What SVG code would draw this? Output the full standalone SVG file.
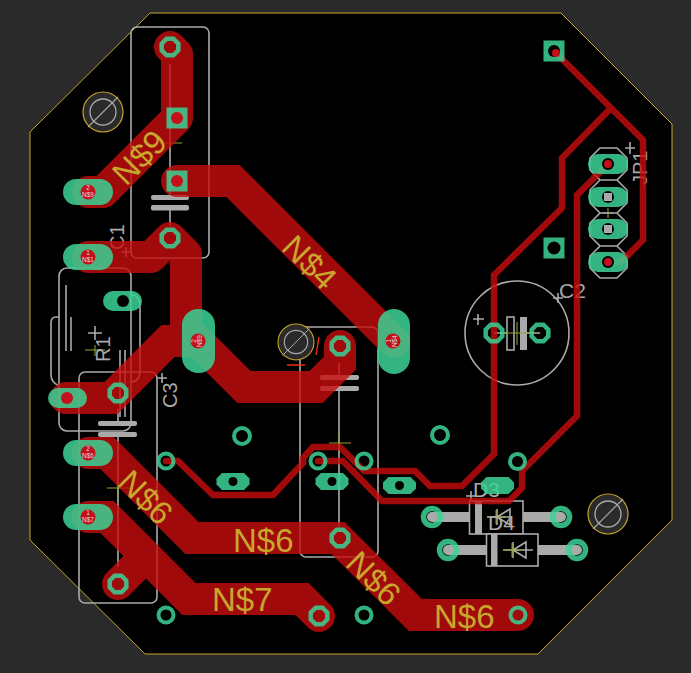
<svg xmlns="http://www.w3.org/2000/svg" width="691" height="673" viewBox="0 0 691 673">
<style>
.s{fill:none;stroke:#aaa;stroke-width:1.6}
.sf{fill:#aaa;stroke:none}
.y{fill:none;stroke:#9aa32a;stroke-width:1}
.wide{fill:none;stroke:#c80d0d;stroke-width:32;stroke-linejoin:miter;stroke-linecap:round}
.thin{fill:none;stroke:#c80d0d;stroke-width:6.5;stroke-linejoin:miter;stroke-linecap:round}
.g{fill:#3bd296;opacity:.85}
.r{fill:none;stroke:#3bd296;stroke-width:4;opacity:.85}
.R{fill:none;stroke:#3bd296;stroke-width:5.5;opacity:.85}
.h{fill:#000}
.big{font:33px "Liberation Sans",Arial,sans-serif;fill:#c8a62c}
.sk{font:20px "Liberation Sans",Arial,sans-serif;fill:#aaa}
.t{font:6.5px "Liberation Sans",Arial,sans-serif;fill:#ddd;text-anchor:middle}
.dot{fill:#c4101a}
.lead{stroke:#aaa;stroke-width:10;stroke-linecap:round;fill:none}
.mh{fill:#2a2a2a;stroke:#c8a62c;stroke-width:1.2}
</style>
<defs>
<polygon id="oct" points="-3.400,-8.300 3.400,-8.300 8.300,-3.400 8.300,3.400 3.400,8.300 -3.400,8.300 -8.300,3.400 -8.300,-3.400" fill="none" stroke="#3bd296" stroke-opacity=".85" stroke-width="4.500"/>
<g id="mh"><circle class="mh" r="20"/><circle r="13" fill="none" stroke="#aaa" stroke-width="1.3"/><line x1="-15" y1="15" x2="15" y2="-15" stroke="#aaa" stroke-width="1.1"/></g>
<polygon id="flat" class="g" points="-11,-8.5 11,-8.5 16.5,-3 16.5,3 11,8.5 -11,8.5 -16.5,3 -16.5,-3"/>
</defs>
<rect width="691" height="673" fill="#2a2a2a"/>
<polygon id="board" points="150,13 561,13 672,124 672,520 538,654 145,654 30,540 30,132" fill="#000" stroke="#c8a62c" stroke-width="1"/>

<g id="silk">
<rect class="s" x="131" y="27" width="78" height="231" rx="6"/>
<rect class="s" x="79" y="372" width="78" height="231" rx="6"/>
<rect class="s" x="300" y="327" width="78" height="230" rx="6"/>
<rect class="s" x="59" y="268" width="72" height="163" rx="8"/>
<path class="s" d="M59,317H56Q51,317 51,323V375Q51,382 59,386"/>
<path class="s" d="M131,295H134Q140,298 140,305V370Q140,382 131,382"/>
<path class="s" d="M66,285V351M71,317V351M120,350V417M125,350V417"/>
<path class="s" d="M170,64V195M170,210V226M118,409V423M118,434V567M339,363V377M339,388V527"/>
<rect class="sf" x="151" y="195" width="38" height="5" rx="2"/><rect class="sf" x="151" y="205" width="38" height="5.5" rx="2"/>
<rect class="sf" x="98" y="421" width="39" height="5" rx="2"/><rect class="sf" x="98" y="432" width="39" height="5" rx="2"/>
<rect class="sf" x="320" y="375" width="39" height="5" rx="2"/><rect class="sf" x="320" y="386" width="39" height="5" rx="2"/>
<path class="s" d="M126,247V257M121,252H131M95,326V340M88,333H102M162,373V383M157,378H167M558,293V303M553,298H563M630,142V154M625,148H635M471,491V501M466,496H476M487,527V537M482,532H492"/>
<path class="y" d="M160,143H182M170,143V152M85,350H105M95,345V356M107,488H130M118,478V498M329,443H351M339,432V453M602,213H614M608,208V218"/>
<text class="sk" transform="translate(124,250) rotate(-90)">C1</text>
<text class="sk" transform="translate(110,362) rotate(-90)">R1</text>
<text class="sk" transform="translate(177,408) rotate(-90)">C3</text>
<text class="sk" transform="translate(647,185) rotate(-90)">JP1</text>
<text class="sk" x="559" y="298" style="font-size:21px">C2</text>
<circle class="s" cx="517" cy="333" r="52"/>
<path class="s" d="M473,319H484M478,314V325"/>
<rect class="s" x="507" y="317" width="7" height="33"/>
<rect class="sf" x="520" y="317" width="7" height="33"/>
<path class="s" d="M494,333H507M527,333H540"/>
<path class="y" d="M500,333H535M517,322V345"/>
<path class="s" d="M600,148H617L627,158V170L617,180L627,190V203L617,213L627,223V236L617,246L627,256V268L617,278H600L590,268V256L600,246L590,236V223L600,213L590,203V190L600,180L590,170V158ZM600,180H617M600,213H617M600,246H617"/>
<path class="lead" d="M432,517H469M523,517H561M448,550H486M538,550H577"/>
<rect x="469.500" y="501" width="53.500" height="33" class="s" style="fill:#000"/>
<rect x="486.500" y="534" width="51.500" height="32" class="s" style="fill:#000"/>
<rect class="sf" x="475" y="501" width="7" height="33"/>
<rect class="sf" x="491" y="534" width="6.500" height="32"/>
<path class="s" d="M487,517H512M497,517L510,509V525ZM497,509V525"/>
<path class="s" d="M503,550H533M513,550L526,542V558ZM513,542V558"/>
<path class="y" d="M487,517H505M496,510V524M503,550H521M512,543V557"/>
<text class="sk" x="473" y="497" style="font-size:21px">D3</text>
<text class="sk" x="488" y="530" style="font-size:21px">D4</text>
</g>

<g id="connectors" opacity=".8">
<path class="wide" style="stroke-linejoin:round" d="M170,47L177,54V118L103,192H88"/>
<path class="wide" d="M177,181H233L394,342"/>
<path class="wide" style="stroke-linejoin:round" d="M88,257H151L170,238L186,254V341H198"/>
<path class="wide" d="M66,398H111L168,341H198L244,387H316L340,363V346"/>
<path class="wide" d="M88,453H107L192,538H338L415.500,615H518"/>
<path class="wide" d="M88,517H107L189,599H302L319,616"/>
<path class="wide" d="M118,584L140,562"/>
<path class="thin" d="M554,51L643,140V240L621,262H608"/>
<path class="thin" d="M611,108L562,158V208L494,275V454L462,486H430L415,471H364L340,447H313L303,458V463L273,495H213L178,461H166"/>
<path class="thin" d="M318,461H343L382,501H509L522,488V471L577,416V195L608,164"/>
</g>

<g id="pads">
<rect class="g" x="166.500" y="107.500" width="21" height="21"/>
<rect class="g" x="166.500" y="170.500" width="21" height="21"/>
<rect class="g" x="543.500" y="40.500" width="21" height="21"/>
<rect class="g" x="543.500" y="237.500" width="21" height="21"/>
<circle class="dot" cx="177" cy="118" r="6"/><circle class="dot" cx="177" cy="181" r="6"/>
<circle class="h" cx="554" cy="51" r="6"/><circle class="dot" cx="556" cy="53" r="4"/>
<circle class="h" cx="554" cy="248" r="6.500"/>
<rect class="g" x="63" y="179" width="50" height="26" rx="13"/>
<rect class="g" x="63" y="244" width="50" height="26" rx="13"/>
<rect class="g" x="63" y="440" width="50" height="26" rx="13"/>
<rect class="g" x="63" y="504" width="50" height="26" rx="13"/>
<rect class="g" x="182" y="309" width="33" height="64" rx="16"/>
<rect class="g" x="378" y="309" width="32" height="65" rx="16"/>
<rect class="g" x="48" y="388" width="39" height="20" rx="10"/>
<circle class="dot" cx="67" cy="398" r="6"/>
<rect class="g" x="103" y="291" width="39" height="20" rx="10"/>
<circle class="h" cx="123" cy="301" r="6"/>
<use href="#flat" x="233" y="481.500"/><circle class="h" cx="233" cy="481.500" r="4.500"/>
<use href="#flat" x="332" y="481.500"/><circle class="h" cx="332" cy="481.500" r="4.500"/>
<use href="#flat" x="399.500" y="485.500"/><circle class="h" cx="399.500" cy="485.500" r="4.500"/>
<use href="#flat" x="497.500" y="485.500"/>
<use href="#oct" x="170" y="47"/><use href="#oct" x="170" y="238"/><use href="#oct" x="118" y="393"/>
<use href="#oct" x="340" y="346"/><use href="#oct" x="118" y="584"/><use href="#oct" x="494" y="333"/><use href="#oct" x="540" y="333"/>
<use href="#oct" x="340" y="538"/><use href="#oct" x="319" y="616"/>
<circle class="r" cx="242" cy="436" r="8"/><circle class="r" cx="440" cy="435" r="8"/>
<circle class="r" cx="166" cy="461" r="7.500"/><circle class="r" cx="318" cy="461" r="7.500"/><circle class="r" cx="364" cy="461" r="7.500"/><circle class="r" cx="517.500" cy="461.500" r="7.500"/>
<circle class="r" cx="166" cy="615" r="7.500"/><circle class="r" cx="364" cy="615" r="7.500"/><circle class="r" cx="518" cy="615" r="7.500"/>
<circle class="R" cx="432" cy="517" r="8.500"/><circle class="R" cx="561" cy="517" r="8.500"/><circle class="R" cx="448" cy="550" r="8.500"/><circle class="R" cx="577" cy="550" r="8.500"/>
<g id="jp1">
<rect class="g" x="588" y="154" width="40" height="20" rx="10"/><rect class="g" x="588" y="187" width="40" height="20" rx="10"/><rect class="g" x="588" y="219" width="40" height="20" rx="10"/><rect class="g" x="588" y="252" width="40" height="20" rx="10"/>
<circle class="h" cx="608" cy="164" r="6"/><circle class="h" cx="608" cy="197" r="6"/><circle class="h" cx="608" cy="229" r="6"/><circle class="h" cx="608" cy="262" r="6"/>
<rect class="sf" x="604" y="193" width="8" height="8"/><rect class="sf" x="604" y="225" width="8" height="8"/>
<circle class="dot" cx="608" cy="164" r="4"/><circle class="dot" cx="608" cy="262" r="4"/>
</g>
<circle class="dot" cx="88" cy="192" r="7.500"/><text class="t" x="88" y="190">2</text><text class="t" x="88" y="197">N$9</text>
<circle class="dot" cx="88" cy="257" r="7.500"/><text class="t" x="88" y="255">1</text><text class="t" x="88" y="262">N$1</text>
<circle class="dot" cx="88" cy="453" r="7.500"/><text class="t" x="88" y="451">2</text><text class="t" x="88" y="458">N$6</text>
<circle class="dot" cx="88" cy="517" r="7.500"/><text class="t" x="88" y="515">1</text><text class="t" x="88" y="522">N$7</text>
<circle class="dot" cx="198" cy="341" r="7.500"/><text class="t" transform="translate(202,341) rotate(-90)">N$9</text><text class="t" transform="translate(196,341) rotate(-90)">2</text>
<circle class="dot" cx="393" cy="341" r="7.500"/><text class="t" transform="translate(397,341) rotate(-90)">N$4</text><text class="t" transform="translate(391,341) rotate(-90)">1</text>
</g>

<g id="mounts">
<use href="#mh" x="103" y="112"/><use href="#mh" x="608" y="514"/>
<use href="#mh" transform="translate(296,342) scale(.9)"/>
<path d="M287,365H305M319,337L316,355" stroke="#f03010" stroke-width="1.400" fill="none"/>
</g>

<g id="labels">
<text class="big" transform="translate(139,157) rotate(-45)" text-anchor="middle" dy="12">N$9</text>
<text class="big" transform="translate(310,262) rotate(45)" text-anchor="middle" dy="12">N$4</text>
<text class="big" transform="translate(146,497) rotate(45)" text-anchor="middle" dy="12">N$6</text>
<text class="big" transform="translate(374,578) rotate(45)" text-anchor="middle" dy="12">N$6</text>
<text class="big" x="233" y="552">N$6</text>
<text class="big" x="212" y="611">N$7</text>
<text class="big" x="434" y="628">N$6</text>
</g>
</svg>
